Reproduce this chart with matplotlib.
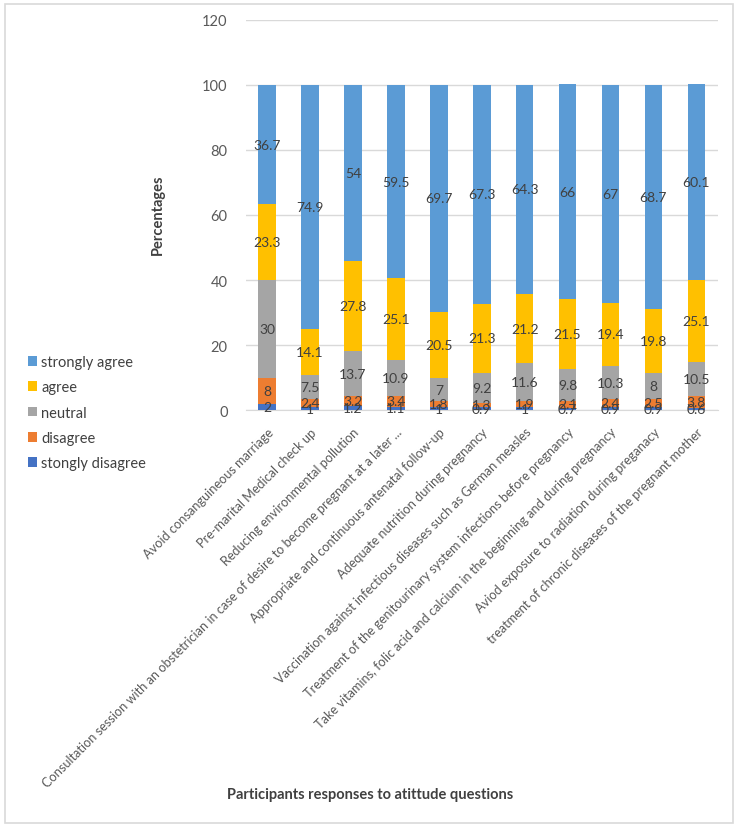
import matplotlib.pyplot as plt
import numpy as np
from matplotlib.patches import Rectangle

plt.rcParams['font.family'] = ['Lato', 'DejaVu Sans']

questions = ['Avoid consanguineous marriage',
             'Pre-marital Medical check up',
             'Reducing environmental pollution',
             'Consultation session with an obstetrician in case of desire to become pregnant at a later ...',
             'Appropriate and continuous antenatal follow-up',
             'Adequate nutrition during pregnancy',
             'Vaccination against infectious diseases such as German measles',
             'Treatment of the genitourinary system infections before pregnancy',
             'Take vitamins, folic acid and calcium in the beginning and during pregnancy',
             'Aviod exposure to radiation during preganacy',
             'treatment of chronic diseases of the pregnant mother']

strongly_disagree = [2, 1, 1.2, 1.1, 1, 0.9, 1, 0.7, 0.9, 0.9, 0.6]
disagree = [8, 2.4, 3.2, 3.4, 1.8, 1.3, 1.9, 2.1, 2.4, 2.5, 3.8]
neutral = [30, 7.5, 13.7, 10.9, 7, 9.2, 11.6, 9.8, 10.3, 8, 10.5]
agree = [23.3, 14.1, 27.8, 25.1, 20.5, 21.3, 21.2, 21.5, 19.4, 19.8, 25.1]
strongly_agree = [36.7, 74.9, 54, 59.5, 69.7, 67.3, 64.3, 66, 67, 68.7, 60.1]

series = [('stongly disagree', strongly_disagree, '#4472C4'),
          ('disagree', disagree, '#ED7D31'),
          ('neutral', neutral, '#A5A5A5'),
          ('agree', agree, '#FFC000'),
          ('strongly agree', strongly_agree, '#5B9BD5')]

fig = plt.figure(figsize=(7.4, 8.29), dpi=100)
fig.patches.append(Rectangle((0.007, 0.006), 0.984, 0.988, transform=fig.transFigure,
                             fill=False, edgecolor='#D9D9D9', linewidth=1.2))
ax = fig.add_axes([0.332, 0.504, 0.638, 0.471])

x = np.arange(len(questions))
bottom = np.zeros(len(questions))
handles = []
for name, vals, col in series:
    vals = np.array(vals)
    b = ax.bar(x, vals, 0.41, bottom=bottom, color=col, label=name, zorder=3)
    handles.append(b)
    for xi, v, bt in zip(x, vals, bottom):
        ax.text(xi, bt + v / 2, '%g' % v, ha='center', va='center',
                fontsize=10, color='#404040', zorder=4)
    bottom += vals

ax.set_ylim(0, 120)
ax.set_yticks(range(0, 121, 20))
ax.set_xlim(-0.5, len(questions) - 0.5)
ax.yaxis.grid(True, color='#D9D9D9', linewidth=1, zorder=0)
for s in ['top', 'right', 'left']:
    ax.spines[s].set_visible(False)
ax.spines['bottom'].set_color('#D9D9D9')
ax.tick_params(axis='both', length=0, colors='#595959', labelsize=10.5)
ax.tick_params(axis='y', pad=13)
ax.tick_params(axis='x', pad=11)
ax.set_xticks(x)
ax.set_xticklabels(questions, rotation=45, ha='right', rotation_mode='anchor',
                   fontsize=9.2, color='#595959')

fig.text(158 / 740, 0.741, 'Percentages', rotation=90, ha='center', va='center',
         fontsize=10.5, fontweight='bold', color='#404040')
fig.text(0.5, 0.041, 'Participants responses to atittude questions', ha='center',
         va='center', fontsize=10.5, fontweight='bold', color='#404040')

leg = fig.legend(handles[::-1], [s[0] for s in series][::-1], loc='center left',
                 bbox_to_anchor=(0.02, 0.501), frameon=False, fontsize=10.5,
                 labelspacing=0.78, handlelength=0.65, handleheight=0.65,
                 handletextpad=0.25, labelcolor='#404040')

plt.savefig('out.png', dpi=100)
